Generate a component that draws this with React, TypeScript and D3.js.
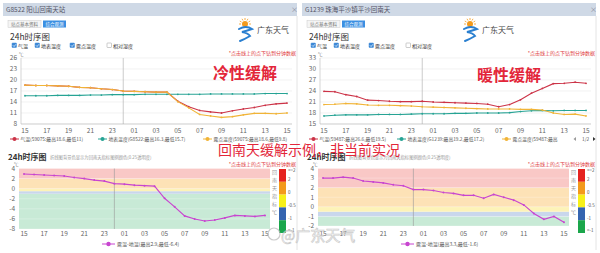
import * as d3 from "d3";

// hours along the x axis (15:00 to 15:00 next day)
const HOURS = ["15", "16", "17", "18", "19", "20", "21", "22", "23", "00", "01", "02", "03", "04", "05", "06", "07", "08", "09", "10", "11", "12", "13", "14", "15"];

// G8522 阳山 – cold relief
const leftAir = [18.6, 18.5, 18.5, 18.4, 18.3, 18.0, 17.9, 17.6, 17.4, 17.0, 16.9, 16.8, 16.7, 16.7, 14.2, 12.7, 11.7, 11.3, 11.0, 11.6, 12.1, 12.5, 13.1, 13.5, 13.7];
const leftDew = [18.6, 18.5, 18.5, 18.4, 18.3, 18.0, 17.9, 17.6, 17.4, 17.0, 16.9, 16.8, 16.7, 16.7, 14.1, 12.4, 10.6, 10.2, 9.8, 10.0, 10.5, 10.9, 10.9, 10.8, 11.0];
const leftGround = [15.7, 15.7, 15.7, 15.8, 15.8, 15.8, 15.9, 15.9, 16.0, 16.0, 16.0, 16.1, 16.1, 16.1, 16.1, 16.1, 16.1, 16.2, 16.2, 16.2, 16.2, 16.2, 16.3, 16.3, 16.3];
const leftDiff = [2.9, 2.8, 2.7, 2.6, 2.5, 2.2, 2.0, 1.7, 1.5, 1.0, 0.9, 0.7, 0.6, 0.5, -1.9, -3.6, -5.4, -6.0, -6.4, -6.2, -5.8, -5.3, -5.4, -5.5, -5.3];
const leftTempTicks = [8, 11, 14, 17, 20, 23, 26];
const leftDiffTicks = [-8, -6, -4, -2, 0, 2, 4];
const leftLegend = ["气温(59075:最高18.6,最低11)", "地表温度(G8522:最高16.3,最低15.7)", "露点温度(59075:最高18.6,最低9.8)"];
const leftDiffLegend = "露温-地温(最高2.9,最低-6.4)";

// G1239 珠海平沙 – warm relief
const rightAir = [23.9, 23.8, 23.0, 22.5, 21.5, 21.4, 21.2, 21.1, 21.1, 21.2, 21.0, 20.9, 20.8, 20.7, 20.6, 20.4, 19.7, 20.3, 21.6, 23.4, 24.7, 26.0, 26.1, 26.4, 26.1];
const rightDew = [20.3, 20.4, 20.6, 20.5, 20.2, 20.1, 20.1, 20.0, 19.9, 19.7, 19.6, 19.5, 19.4, 19.3, 19.2, 19.1, 19.1, 19.1, 19.0, 19.0, 18.8, 18.0, 17.6, 17.7, 17.2];
const rightGround = [17.2, 17.4, 17.5, 17.5, 17.5, 17.6, 17.6, 17.6, 17.7, 17.8, 17.8, 17.8, 17.9, 17.9, 18.0, 18.0, 18.0, 18.1, 18.4, 18.6, 18.7, 18.6, 18.7, 18.7, 18.7];
const rightDiff = [3.0, 3.0, 3.1, 3.0, 2.7, 2.6, 2.5, 2.3, 2.2, 1.8, 1.8, 1.7, 1.5, 1.4, 1.2, 1.2, 0.9, 1.3, 1.0, 0.7, 0.2, -0.7, -1.3, -1.0, -1.6];
const rightTempTicks = [15, 18, 21, 24, 27, 30, 33];
const rightDiffTicks = [-2, -1, 0, 1, 2, 3, 4];
const rightLegend = ["气温(59487:最高26.6,最低19.5)", "地表温度(G1239:最高19.2,最低17.2)", "露点温度(59487:最高"];
const rightDiffLegend = "露温-地温(最高3.3,最低-1.6)";

// 回南天 index bands (lower, upper) and legend
const BAND_EDGES = [-99, -1, -0.5, 0, 2, 99];
const BAND_FILLS = ["#c8ead6", "#c9d7ec", "#fdf3b8", "#fde2b6", "#f9c8c6"];
const BAR_COLORS = ["#e5231f", "#f39a1c", "#f7f018", "#3464b0", "#1ba64b"];
const BAR_LABELS = [">=2", "2", "0", "-0.5", "-1", "<-1"];
const BAR_TITLE = ["回", "南", "天", "指", "标", "℃"];

const CHECKS = [
  { label: "气温", on: true },
  { label: "地表温度", on: true },
  { label: "露点温度", on: true },
  { label: "相对湿度", on: false },
];

const C_AIR = "#cc3347";
const C_GROUND = "#26a394";
const C_DEW = "#f1b437";
const C_DIFF = "#c845d0";
const FONT = "'Noto Sans CJK SC', 'Noto Sans', sans-serif";

interface PanelProps {
  dx: number;
  title: string;
  air: number[];
  dew: number[];
  ground: number[];
  diff: number[];
  tempTicks: number[];
  diffTicks: number[];
  legend: string[];
  diffLegend: string;
  logoX: number;
  pager?: boolean;
}

function Logo({ x, y }: { x: number; y: number }) {
  return (
    <g transform={`translate(${x},${y})`}>
      <circle cx={7} cy={-5} r={3} fill="#f39a1c" />
      {d3.range(7).map((i) => {
        const a = Math.PI + (i * Math.PI) / 6;
        return (
          <line key={i} x1={7 + Math.cos(a) * 4} y1={-5 + Math.sin(a) * 4} x2={7 + Math.cos(a) * 6} y2={-5 + Math.sin(a) * 6} stroke="#f39a1c" strokeWidth={0.8} />
        );
      })}
      <path d="M1,0 Q8,-4 14,0 Q8,2 4,3 Q10,4 12,7 Q7,10 2,12" fill="none" stroke="#2a7fd0" strokeWidth={2} strokeLinecap="round" />
      <text x={19} y={4} fontSize={8} fill="#444" fontFamily={FONT}>广东天气</text>
    </g>
  );
}

function Panel(p: PanelProps) {
  const { dx } = p;
  const idx = d3.range(HOURS.length);

  // upper chart scales
  const xT = d3.scalePoint<number>().domain(idx).range([dx + 19.5, dx + 292.5]).padding(0.5);
  const yT = d3.scaleLinear().domain([p.tempTicks[0], p.tempTicks[p.tempTicks.length - 1]]).range([124, 58]);
  const lineT = d3.line<number>().x((_, i) => xT(i)!).y((d) => yT(d));

  // lower chart scales
  const xB = d3.scalePoint<number>().domain(idx).range([dx + 19, dx + 270]).padding(0.5);
  const yB = d3.scaleLinear().domain([p.diffTicks[0], p.diffTicks[p.diffTicks.length - 1]]).range([p.dx ? 226 : 229, 168.5]);
  const lineB = d3.line<number>().x((_, i) => xB(i)!).y((d) => yB(d));
  const [bLo, bHi] = yB.domain();

  const bar = d3.scaleLinear().domain([0, BAR_COLORS.length]).range([169, 233]);

  const series = [
    { vals: p.ground, color: C_GROUND },
    { vals: p.air, color: C_AIR },
    { vals: p.dew, color: C_DEW },
  ];
  const legendColors = [C_AIR, C_GROUND, C_DEW];
  const legendX = [10, 98, 203];

  return (
    <g fontFamily={FONT}>
      {/* title bar */}
      <rect x={dx + 3} y={3} width={294} height={13} fill="#cfd9e6" />
      <text x={dx + 6} y={12} fontSize={6.5} fill="#556">{p.title}</text>
      <text x={dx + 291} y={12} fontSize={7} fill="#889">×</text>
      <line x1={dx + 297} x2={dx + 297} y1={16} y2={250} stroke="#e4e4e4" />

      {/* buttons */}
      <rect x={dx + 8} y={20.5} width={33} height={7} fill="#f5f5f5" stroke="#ccc" strokeWidth={0.5} />
      <text x={dx + 24.5} y={25.8} fontSize={4.5} fill="#777" textAnchor="middle">站点基本资料</text>
      <rect x={dx + 43} y={20.5} width={23} height={7} fill="#3b8fe2" />
      <text x={dx + 54.5} y={25.8} fontSize={4.5} fill="#fff" textAnchor="middle">综合观测</text>

      <Logo x={p.logoX} y={29} />

      <text x={dx + 10} y={39.5} fontSize={8.5} fill="#333">24h时序图</text>
      {CHECKS.map((c, i) => {
        const cx = dx + [12, 35, 70, 107][i];
        return (
          <g key={c.label}>
            <rect x={cx} y={43} width={4.5} height={4.5} rx={0.6} fill={c.on ? "#3c88d6" : "#fff"} stroke={c.on ? "#3c88d6" : "#999"} strokeWidth={0.5} />
            {c.on && <path d={`M${cx + 0.9},${45.3} l1.2,1.2 l1.8,-2.2`} fill="none" stroke="#fff" strokeWidth={0.7} />}
            <text x={cx + 6} y={47.5} fontSize={5} fill="#333">{c.label}</text>
          </g>
        );
      })}
      <text x={dx + 296} y={55} fontSize={5} fill="#e03a3a" textAnchor="end">*点击线上的点下钻到分钟数据</text>

      {/* upper chart */}
      <text x={dx + 19} y={56} fontSize={4.5} fill="#888">℃</text>
      {p.tempTicks.map((t) => (
        <g key={t}>
          <line x1={dx + 21} x2={dx + 292} y1={yT(t)} y2={yT(t)} stroke="#e9e9e9" strokeWidth={0.6} />
          <text x={dx + 17} y={yT(t) + 2.3} fontSize={6.5} fill="#666" textAnchor="end">{t}</text>
        </g>
      ))}
      <line x1={dx + 21} x2={dx + 21} y1={58} y2={124} stroke="#bbb" strokeWidth={0.6} />
      <line x1={dx + 21} x2={dx + 292} y1={124} y2={124} stroke="#bbb" strokeWidth={0.6} />
      <line x1={xT(9)} x2={xT(9)} y1={58} y2={124} stroke="#aaa" strokeWidth={0.6} />
      {idx.filter((i) => i % 2 === 0).map((i) => (
        <text key={i} x={xT(i)} y={133} fontSize={6.5} fill="#666" textAnchor="middle">{HOURS[i]}</text>
      ))}
      {series.map((s, si) => (
        <g key={si}>
          <path d={lineT(s.vals) ?? ""} fill="none" stroke={s.color} strokeWidth={1.1} />
          {s.vals.map((v, i) => (
            <circle key={i} cx={xT(i)} cy={yT(v)} r={0.9} fill={s.color} />
          ))}
        </g>
      ))}
      {p.legend.map((l, i) => (
        <g key={l}>
          <line x1={dx + legendX[i]} x2={dx + legendX[i] + 9} y1={139} y2={139} stroke={legendColors[i]} strokeWidth={1} />
          <circle cx={dx + legendX[i] + 4.5} cy={139} r={2} fill={legendColors[i]} />
          <text x={dx + legendX[i] + 10.5} y={140.8} fontSize={4.8} fill="#555">{l}</text>
        </g>
      ))}
      {p.pager && (
        <g>
          <path d={`M${dx + 277},137 l-2.5,2 l2.5,2 z`} fill="#999" />
          <text x={dx + 283} y={140.8} fontSize={4.8} fill="#555">1/2</text>
          <path d={`M${dx + 294},137 l2.5,2 l-2.5,2 z`} fill="#333" />
        </g>
      )}

      {/* lower chart */}
      <text x={dx + 8} y={160} fontSize={8} fontWeight={700} fill="#333">24h时序图</text>
      <text x={dx + 50} y={159} fontSize={4.3} fill="#999">折线图背景色显示为回南天指标图例颜色(0.25透明度)</text>
      <text x={dx + 296} y={166} fontSize={5} fill="#e03a3a" textAnchor="end">*点击线上的点下钻到分钟数据</text>
      <text x={dx + 14} y={166} fontSize={4.5} fill="#888">℃</text>
      {BAND_FILLS.map((f, i) => {
        const lo = Math.max(BAND_EDGES[i], bLo);
        const hi = Math.min(BAND_EDGES[i + 1], bHi);
        if (hi <= lo) return null;
        return <rect key={i} x={dx + 19} width={251} y={yB(hi)} height={yB(lo) - yB(hi)} fill={f} />;
      })}
      {p.diffTicks.map((t) => (
        <g key={t}>
          <line x1={dx + 19} x2={dx + 270} y1={yB(t)} y2={yB(t)} stroke="#ffffff" strokeOpacity={0.5} strokeWidth={0.5} />
          <text x={dx + 15} y={yB(t) + 2.3} fontSize={6.5} fill="#666" textAnchor="end">{t}</text>
        </g>
      ))}
      <line x1={xB(9)} x2={xB(9)} y1={yB(bHi)} y2={yB(bLo)} stroke="#999" strokeWidth={0.6} />
      {idx.filter((i) => i % 2 === 0).map((i) => (
        <text key={i} x={xB(i)} y={236} fontSize={6.5} fill="#666" textAnchor="middle">{HOURS[i]}</text>
      ))}
      <path d={lineB(p.diff) ?? ""} fill="none" stroke={C_DIFF} strokeWidth={1.1} />
      {p.diff.map((v, i) => (
        <circle key={i} cx={xB(i)} cy={yB(v)} r={1} fill={C_DIFF} />
      ))}
      <line x1={dx + 102} x2={dx + 115} y1={244} y2={244} stroke={C_DIFF} strokeWidth={1} />
      <circle cx={dx + 108.5} cy={244} r={2.2} fill={C_DIFF} />
      <text x={dx + 117} y={246} fontSize={5} fill="#555">{p.diffLegend}</text>

      {/* index colour bar */}
      {BAR_COLORS.map((c, i) => (
        <rect key={c} x={dx + 279} width={7} y={bar(i)} height={bar(i + 1) - bar(i)} fill={c} />
      ))}
      {BAR_LABELS.map((l, i) => (
        <text key={l} x={dx + 288} y={i === 0 ? 172 : i === BAR_LABELS.length - 1 ? 232 : bar(i) - 0.5} fontSize={4.5} fill="#555">{l}</text>
      ))}
      {BAR_TITLE.map((c, i) => (
        <text key={c} x={dx + 274.5} y={174 + i * 8} fontSize={5} fill="#999" textAnchor="middle">{c}</text>
      ))}
    </g>
  );
}

export default function App() {
  return (
    <div>
      <style>{`body{margin:0}`}</style>
      <svg width={600} height={253} style={{ display: "block", background: "#fff" }}>
        <Panel dx={0} title="G8522 阳山回南天站" air={leftAir} dew={leftDew} ground={leftGround} diff={leftDiff}
          tempTicks={leftTempTicks} diffTicks={leftDiffTicks} legend={leftLegend} diffLegend={leftDiffLegend} logoX={238} />
        <Panel dx={299} title="G1239 珠海平沙镇平沙回南天" air={rightAir} dew={rightDew} ground={rightGround} diff={rightDiff}
          tempTicks={rightTempTicks} diffTicks={rightDiffTicks} legend={rightLegend} diffLegend={rightDiffLegend} logoX={463} pager />

        {/* overlay annotations */}
        <g fontFamily={FONT} fill="#e3263a">
          <text x={213} y={79} fontSize={16} fontWeight={700}>冷性缓解</text>
          <text x={477} y={81} fontSize={16} fontWeight={700}>暖性缓解</text>
          <text x={218} y={155} fontSize={14}>回南天缓解示例，非当前实况</text>
        </g>
        <g fontFamily={FONT} opacity={0.75}>
          <circle cx={274} cy={234} r={6} fill="none" stroke="#bbb" strokeWidth={1.2} />
          <text x={281} y={241} fontSize={15} fill="#fff" stroke="#bbb" strokeWidth={0.7}>@广东天气</text>
        </g>
      </svg>
    </div>
  );
}
